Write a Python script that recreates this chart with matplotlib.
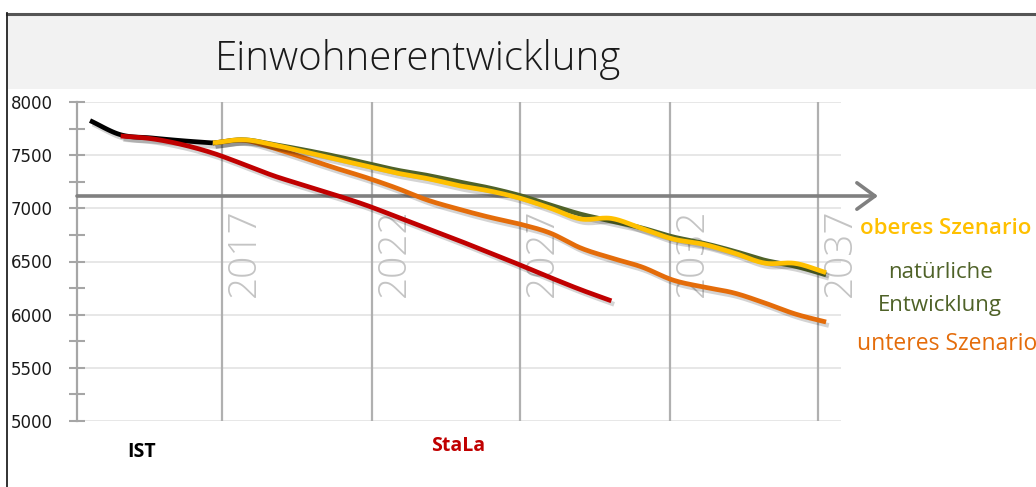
import numpy as np
import matplotlib
matplotlib.use("Agg")
import matplotlib.pyplot as plt
import matplotlib.patheffects as pe
from matplotlib.patches import Rectangle
from matplotlib.lines import Line2D

# ---------------- data ----------------
years_ist = [2013, 2014, 2015, 2016, 2017]
ist = [7825, 7692, 7662, 7636, 7615]

years_stala = list(range(2014, 2031))
stala = [7680, 7655, 7600, 7520, 7415, 7305, 7215, 7125, 7030, 6920, 6810,
         6700, 6585, 6470, 6350, 6235, 6130]

years_scen = list(range(2017, 2038))
oberes = [7614, 7645, 7596, 7530, 7464, 7398, 7332, 7280, 7215, 7165, 7097,
          7003, 6900, 6905, 6810, 6712, 6662, 6580, 6485, 6482, 6395]
natuerlich = [7614, 7645, 7600, 7548, 7490, 7425, 7360, 7310, 7250, 7193, 7122,
              7032, 6945, 6880, 6815, 6732, 6672, 6597, 6512, 6455, 6375]
unteres = [7614, 7640, 7567, 7473, 7379, 7290, 7190, 7078, 6994, 6918, 6853,
           6768, 6627, 6533, 6448, 6326, 6260, 6204, 6110, 6006, 5931]

xtick_labels = ['2017', '2022', '2027', '2032', '2037']
yticks_major = [5000, 5500, 6000, 6500, 7000, 7500, 8000]
arrow_level = 7116

# ---------------- helpers ----------------
def smooth(x, y, n=24):
    P = np.column_stack([np.asarray(x, float), np.asarray(y, float)])
    P = np.vstack([2 * P[0] - P[1], P, 2 * P[-1] - P[-2]])
    t = np.linspace(0, 1, n, endpoint=False)[:, None]
    out = []
    for i in range(1, len(P) - 2):
        p0, p1, p2, p3 = P[i - 1], P[i], P[i + 1], P[i + 2]
        seg = 0.5 * (2 * p1 + (-p0 + p2) * t + (2 * p0 - 5 * p1 + 4 * p2 - p3) * t ** 2
                     + (-p0 + 3 * p1 - 3 * p2 + p3) * t ** 3)
        out.append(seg)
    out.append(P[-2][None])
    a = np.vstack(out)
    return a[:, 0], a[:, 1]

W, H = 1036, 487
fig = plt.figure(figsize=(W / 100, H / 100), dpi=100)
fig.patch.set_facecolor('white')

def px(x, y):
    return x / W, 1 - y / H

# title band & frame
fig.patches.append(Rectangle(px(8, 89), (W - 8) / W, 74 / H, transform=fig.transFigure,
                             facecolor='#f2f2f2', edgecolor='none', zorder=0))
fig.lines.append(Line2D([7 / W, 1], [1 - 13.5 / H] * 2, transform=fig.transFigure,
                        color='#555555', lw=2.2))
fig.lines.append(Line2D([7 / W, 7 / W], [0, 1 - 13 / H], transform=fig.transFigure,
                        color='#222222', lw=1.3))

title_font = ['Open Sans', 'DejaVu Sans']
fig.text(418 / W, 1 - 59 / H, 'Einwohnerentwicklung', ha='center', va='center',
         fontsize=29, family=title_font, fontweight='light', color='#1a1a1a')

# axes: x from px 77 to 841, y from 102 (8000) to 421 (5000)
left, right, top, bottom = 77, 841, 102, 421
ax = fig.add_axes([left / W, 1 - bottom / H, (right - left) / W, (bottom - top) / H])
ax.set_facecolor('none')
pxyear = 30.67
x0 = 2013 + (left - 90) / pxyear
x1 = 2013 + (right - 90) / pxyear
ax.set_xlim(x0, x1)
ax.set_ylim(5000, 8000)

for s in ['top', 'right', 'bottom']:
    ax.spines[s].set_visible(False)
ax.spines['left'].set_color('#a6a6a6')
ax.spines['left'].set_linewidth(1.6)

ax.set_yticks(yticks_major)
ax.set_yticks(np.arange(5250, 8000, 500), minor=True)
ax.tick_params(axis='y', which='both', direction='inout', length=11, width=1.5,
               color='#a6a6a6', labelsize=12, pad=12, labelcolor='#1a1a1a')
ax.tick_params(axis='x', bottom=False, labelbottom=False)
for v in yticks_major:
    ax.axhline(v, color='#e3e3e3', lw=1.2, zorder=0)

# vertical gridlines with rotated year labels
grid_px = [222, 372, 520, 670, 818]
for gp, lab in zip(grid_px, xtick_labels):
    gx = 2013 + (gp - 90) / pxyear
    ax.axvline(gx, color='#b0b0b0', lw=1.6, zorder=1)
    ax.text(gx + 0.1, 6170, lab, rotation=90, ha='left', va='bottom', fontsize=28,
            family=title_font, fontweight='light', color='#c4c4c4', zorder=1)

shadow = [pe.SimpleLineShadow(offset=(2, -2.5), shadow_color='#000000', alpha=0.17),
          pe.Normal()]

def draw(x, y, color, z):
    sx, sy = smooth(x, y)
    ax.plot(sx, sy, color=color, lw=3.4, solid_capstyle='butt', zorder=z,
            path_effects=shadow)

draw(years_ist, ist, '#000000', 5)
draw(years_stala, stala, '#c00000', 6)
draw(years_scen, unteres, '#e46c0a', 4)
draw(years_scen, natuerlich, '#4f6228', 4.5)
draw(years_scen, oberes, '#ffc000', 4.8)

# horizontal arrow
ax.annotate('', xy=((878 - left) / (right - left), arrow_level), xytext=(0, arrow_level),
            xycoords=('axes fraction', 'data'), textcoords=('axes fraction', 'data'),
            arrowprops=dict(arrowstyle='->,head_length=1.3,head_width=0.95',
                            color='#808080', lw=2.6, shrinkA=0, shrinkB=0),
            annotation_clip=False, zorder=3)

# labels
lab_font = ['Open Sans', 'DejaVu Sans']
fig.text(946 / W, 1 - 228 / H, 'oberes Szenario', ha='center', va='center', fontsize=16,
         family=lab_font, color='#ffc000', fontweight='semibold')
fig.text(940 / W, 1 - 272 / H, 'natürliche', ha='center', va='center', fontsize=16,
         family=lab_font, color='#4f6228')
fig.text(940 / W, 1 - 306 / H, 'Entwicklung', ha='center', va='center', fontsize=16,
         family=lab_font, color='#4f6228')
fig.text(857 / W, 1 - 344 / H, 'unteres Szenario', ha='left', va='center', fontsize=16.5,
         family=lab_font, color='#e46c0a')
fig.text(142 / W, 1 - 452 / H, 'IST', ha='center', va='center', fontsize=14,
         family=lab_font, color='#000000', fontweight='bold')
fig.text(458 / W, 1 - 446 / H, 'StaLa', ha='center', va='center', fontsize=14,
         family=lab_font, color='#c00000', fontweight='bold')

fig.savefig('out.png', dpi=100)
